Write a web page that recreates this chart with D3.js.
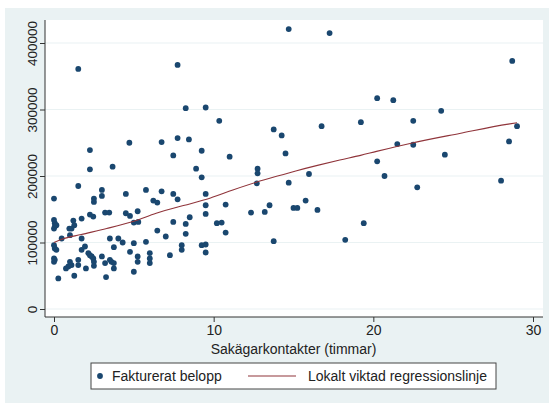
<!DOCTYPE html>
<html>
<head>
<meta charset="utf-8">
<script src="https://cdn.jsdelivr.net/npm/d3@7"></script>
<style>
  body { margin: 0; background: #fff; }
  text { font-family: "Liberation Sans", Arial, sans-serif; }
</style>
</head>
<body>
<svg id="chart" width="549" height="403"></svg>
<script>
// hours of contact with client (x) and invoiced amount (y)
const hours = [
  1.52, 7.74, 8.25, 9.5, 2.25, 4.72, 6.74, 7.74, 8.45, 7.47, 9.25, 2.25, 3.67, 8.9,
  9.25, 0, 1.52, 3.0, 3.0, 2.5, 2.5, 4.5, 5.76, 6.74, 7.47, 7.74, 6.22, 6.47, 9.5, 9.5,
  9.5, 8.5, 8.25, 7.47, 5.24, 4.5, 4.76, 5.0, 5.28, 3.2, 3.46, 2.25, 2.46, 1.73, 1.21,
  1.27, 1.1, 0.96, 0, 0.05, 0.05, 0, 0.15, 1.0, 0.48, 1.73, 3.5, 4.03, 4.3, 5.0, 5.76,
  7.0, 6.47, 8.25, 8.0, 8.0, 9.25, 9.5, 0, 0.05, 0.15, 0, 0, 0.05, 0.27, 0.75, 0.9, 1.1,
  1.0, 1.27, 1.52, 1.52, 1.73, 1.94, 2.0, 2.15, 2.36, 2.46, 2.25, 2.5, 2.5, 3.0, 3.2,
  3.5, 3.6, 3.75, 3.75, 3.26, 3.75, 4.76, 5.24, 5.24, 5.0, 6.0, 6.0, 6.0, 7.26, 9.5,
  14.7, 17.26, 10.35, 13.76, 14.26, 16.76, 19.22, 11.0, 14.5, 12.75,
  12.75, 15.97, 12.7, 14.7, 10.75, 10.2, 10.5, 10.75, 12.34, 13.2, 13.5, 15.0, 15.24,
  15.76, 16.5, 13.76, 18.24, 19.4,
  28.7, 20.24, 21.25, 24.25, 22.5, 21.5, 22.5, 29.0, 28.5, 20.24, 24.48,
  20.7, 22.75, 28.0
];
const amount = [
  361000, 367000, 302000, 303000, 239000, 250000, 251000, 257000, 255000, 231000, 238000, 210000, 214000, 211000,
  198000, 166000, 185000, 179000, 170000, 166000, 161000, 173000, 179000, 177000, 173000, 165000, 163000, 160000, 173000, 156000,
  143000, 138000, 128000, 131000, 147000, 144000, 140000, 130000, 131000, 145000, 145000, 142000, 139000, 136000, 133000,
  126000, 121000, 121000, 134000, 129000, 124000, 121000, 126000, 111000, 106000, 106000, 106000, 106000, 100000, 99000, 101000,
  109000, 118000, 113000, 96000, 89000, 96000, 85000, 96000, 91000, 89000, 76000, 71000, 74000, 46000, 61000, 64000, 66000,
  71000, 50000, 74000, 66000, 89000, 94000, 61000, 84000, 79000, 76000, 81000, 71000, 65000, 79000, 69000,
  74000, 71000, 69000, 61000, 48000, 93000, 86000, 79000, 71000, 56000, 84000, 76000, 69000, 81000, 97000,
  421000, 415000, 283000, 270000, 261000, 275000, 281000, 229000, 234000, 211000,
  204000, 203000, 189000, 190000, 157000, 129000, 130000, 115000, 145000, 146000, 156000, 152000, 152000,
  163000, 149000, 102000, 104000, 129000,
  373000, 317000, 314000, 298000, 283000, 248000, 247000, 275000, 252000, 222000, 232000,
  200000, 183000, 193000
];

// lowess line
const lowessX = [0, 0.5, 1.7, 3.3, 5.0, 6.4, 7.7, 8.5, 9.1, 9.8, 11.2, 12.7, 14.0, 15.2, 16.5, 17.9, 19.2, 20.2, 22.3, 25.4, 28.45, 29.0];
const lowessY = [100000, 105000, 112000, 121000, 132000, 144000, 153000, 158000, 162000, 167000, 179000, 191000, 200000, 208000, 216000, 224000, 231000, 237000, 249000, 264000, 278000, 280000];

const xTicks = [0, 10, 20, 30];
const yTicks = [0, 100000, 200000, 300000, 400000];

const svg = d3.select("#chart");
const navy = "#1a476f", maroon = "#90353b", bg = "#eaf2f3";

// graph region + plot region
svg.append("rect").attr("x", 5).attr("y", 8).attr("width", 544).attr("height", 395).attr("fill", bg);
const plot = { left: 45, right: 543, top: 20, bottom: 317 };
svg.append("rect")
  .attr("x", plot.left).attr("y", plot.top)
  .attr("width", plot.right - plot.left).attr("height", plot.bottom - plot.top)
  .attr("fill", "#fff");

const x = d3.scaleLinear().domain([0, 30]).range([54, 533]);
const y = d3.scaleLinear().domain([0, 400000]).range([309, 43]);

//grid
svg.append("g").selectAll("line")
  .data(yTicks)
  .join("line")
  .attr("x1", plot.left).attr("x2", plot.right)
  .attr("y1", d => y(d)).attr("y2", d => y(d))
  .attr("stroke", bg).attr("stroke-width", 1.2);

// y axis
const yAxis = svg.append("g")
  .attr("transform", `translate(${plot.left},0)`)
  .call(d3.axisLeft(y).tickValues(yTicks).tickFormat(d3.format("d")).tickSize(5).tickSizeOuter(0));
yAxis.select(".domain").attr("d", `M0,${plot.top}V${plot.bottom}`);
yAxis.selectAll("text")
  .attr("transform", "rotate(-90)")
  .attr("x", 0).attr("y", -8)
  .attr("dy", 0)
  .style("text-anchor", "middle")
  .style("font-size", "13.5px");

// x axis
const xAxis = svg.append("g")
  .attr("transform", `translate(0,${plot.bottom})`)
  .call(d3.axisBottom(x).tickValues(xTicks).tickSize(5).tickSizeOuter(0));
xAxis.select(".domain").attr("d", `M${plot.left},0H${plot.right}`);
xAxis.selectAll("text").attr("y", 8).style("font-size", "14px");

svg.selectAll(".domain, .tick line").attr("stroke", "#333");
svg.selectAll(".tick text").attr("fill", "#222");

svg.append("text")
  .attr("x", (x(0) + x(30)) / 2).attr("y", 354)
  .attr("text-anchor", "middle")
  .attr("fill", "#222")
  .style("font-size", "14px")
  .text("Sakägarkontakter (timmar)");

// points
svg.append("g").selectAll("circle")
  .data(hours.map((h, i) => [h, amount[i]]))
  .join("circle")
  .attr("cx", d => x(d[0]))
  .attr("cy", d => y(d[1]))
  .attr("r", 2.9)
  .attr("fill", navy);

// lowess
svg.append("path")
  .datum(lowessX.map((v, i) => [v, lowessY[i]]))
  .attr("d", d3.line().curve(d3.curveMonotoneX).x(d => x(d[0])).y(d => y(d[1])))
  .attr("fill", "none")
  .attr("stroke", maroon)
  .attr("stroke-width", 1.1);

// legend
const lg = svg.append("g");
lg.append("rect").attr("x", 91).attr("y", 363).attr("width", 405).attr("height", 26)
  .attr("fill", "#fff").attr("stroke", "#444");
lg.append("circle").attr("cx", 100).attr("cy", 376).attr("r", 2.9).attr("fill", navy);
lg.append("text").attr("x", 112).attr("y", 381).attr("fill", "#222").style("font-size", "14px").text("Fakturerat belopp");
lg.append("line").attr("x1", 248).attr("x2", 296).attr("y1", 376).attr("y2", 376)
  .attr("stroke", maroon).attr("stroke-width", 1.1);
lg.append("text").attr("x", 308).attr("y", 381).attr("fill", "#222").style("font-size", "14px").text("Lokalt viktad regressionslinje");
</script>
</body>
</html>
